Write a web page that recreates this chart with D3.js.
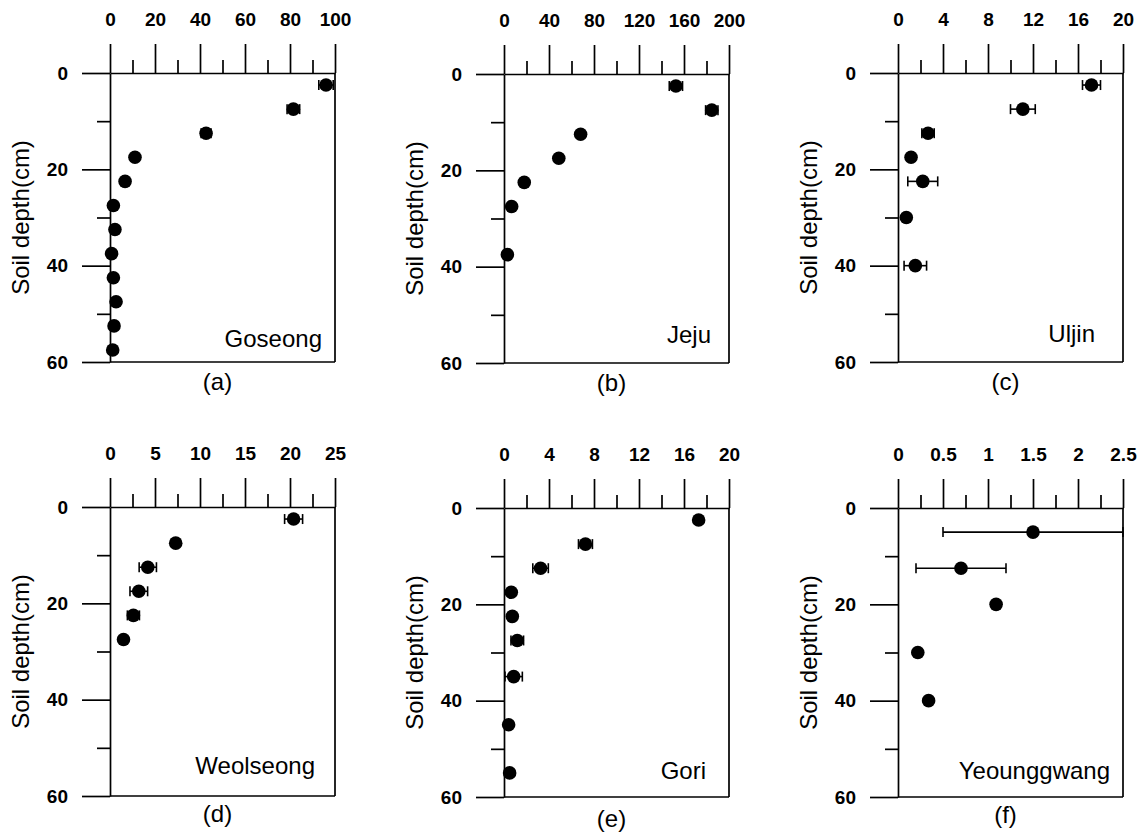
<html>
<head>
    <style>
        body {
            margin: 0;
            background: white;
            font-family: "Liberation Sans", Arial, sans-serif;
        }
        .axis path, .axis line, .border {
            stroke: black;
            stroke-width: 1.7;
        }
    </style>
    <script src="https://cdn.jsdelivr.net/npm/d3@7"></script>
</head>
<body>
    <div class="mainView"></div>
<script>
    // panel names, letters and x axis ranges
    let sites = ["Goseong", "Jeju", "Uljin", "Weolseong", "Gori", "Yeounggwang"];
    let letters = ["(a)", "(b)", "(c)", "(d)", "(e)", "(f)"];
    let xMax = [100, 200, 20, 25, 20, 2.5];
    let xMajorTicks = [
        [0, 20, 40, 60, 80, 100],
        [0, 40, 80, 120, 160, 200],
        [0, 4, 8, 12, 16, 20],
        [0, 5, 10, 15, 20, 25],
        [0, 4, 8, 12, 16, 20],
        [0, 0.5, 1, 1.5, 2, 2.5]
    ];
    let xMinorTicks = [
        [10, 30, 50, 70, 90],
        [20, 60, 100, 140, 180],
        [2, 6, 10, 14, 18],
        [2.5, 7.5, 12.5, 17.5, 22.5],
        [2, 6, 10, 14, 18],
        [0.25, 0.75, 1.25, 1.75, 2.25]
    ];
    let depthMajorTicks = [0, 20, 40, 60];
    let depthMinorTicks = [10, 30, 50];

    // values (depth in cm, value, +/- error)
    let goseongDepth = [2.5, 7.5, 12.5, 17.5, 22.5, 27.5, 32.5, 37.5, 42.5, 47.5, 52.5, 57.5];
    let goseongValue = [96, 81.5, 42.7, 11.1, 6.7, 1.5, 2.2, 0.7, 1.5, 2.7, 1.8, 1.2];
    let goseongError = [3.2, 2.8, 2.2, 0, 0, 0, 0, 0, 0, 0, 0, 0];

    let jejuDepth = [2.5, 7.5, 12.5, 17.5, 22.5, 27.5, 37.5];
    let jejuValue = [152.8, 184.7, 68.1, 48.7, 18, 6.8, 3];
    let jejuError = [5.9, 5.5, 0, 0, 0, 0, 0];

    let uljinDepth = [2.5, 7.5, 12.5, 17.5, 22.5, 30, 40];
    let uljinValue = [17.2, 11.1, 2.67, 1.16, 2.2, 0.74, 1.54];
    let uljinError = [0.8, 1.1, 0.55, 0, 1.33, 0, 1.0];

    let weolseongDepth = [2.5, 7.5, 12.5, 17.5, 22.5, 27.5];
    let weolseongValue = [20.4, 7.3, 4.2, 3.2, 2.6, 1.5];
    let weolseongError = [1.0, 0, 0.96, 0.98, 0.67, 0];

    let goriDepth = [2.5, 7.5, 12.5, 17.5, 22.5, 27.5, 35, 45, 55];
    let goriValue = [17.3, 7.24, 3.25, 0.65, 0.74, 1.18, 0.86, 0.41, 0.5];
    let goriError = [0, 0.62, 0.69, 0, 0, 0.56, 0.77, 0, 0];

    let yeounggwangDepth = [5, 12.5, 20, 30, 40];
    let yeounggwangValue = [1.5, 0.7, 1.09, 0.22, 0.34];
    let yeounggwangError = [1.0, 0.5, 0, 0, 0];

    let depths = [goseongDepth, jejuDepth, uljinDepth, weolseongDepth, goriDepth, yeounggwangDepth];
    let values = [goseongValue, jejuValue, uljinValue, weolseongValue, goriValue, yeounggwangValue];
    let errors = [goseongError, jejuError, uljinError, weolseongError, goriError, yeounggwangError];

    function getChartConfig() {
        let width = 1147;
        let height = 833;
        let panelWidth = 225;
        let panelHeight = 289;
        // left, top, site label offsets, letter offset
        let layout = [
            { left: 110, top: 73, siteDx: 13, siteDy: 15, letterDy: 28 },
            { left: 504, top: 74, siteDx: 18, siteDy: 20, letterDy: 28 },
            { left: 898, top: 73, siteDx: 28, siteDy: 20, letterDy: 28 },
            { left: 110, top: 507, siteDx: 20, siteDy: 22, letterDy: 26 },
            { left: 504, top: 508, siteDx: 23, siteDy: 18, letterDy: 30 },
            { left: 898, top: 508, siteDx: 13, siteDy: 18, letterDy: 26 }
        ];
        let svg = d3.select(".mainView")
            .append("svg")
            .attr("width", width)
            .attr("height", height);
        return { width, height, panelWidth, panelHeight, layout, svg };
    }

    function drawPanel(i, config) {
        let { panelWidth, panelHeight, layout, svg } = config;
        let pos = layout[i];
        let g = svg.append("g")
            .attr("transform", "translate(" + [pos.left, pos.top] + ")");

        let xScale = d3.scaleLinear().domain([0, xMax[i]]).range([0, panelWidth]);
        let yScale = d3.scaleLinear().domain([0, 60]).range([0, panelHeight]);

        // minor ticks
        g.append("g").attr("class", "axis")
            .call(d3.axisTop(xScale).tickValues(xMinorTicks[i]).tickSize(13).tickFormat(""))
            .select(".domain").remove();
        g.append("g").attr("class", "axis")
            .call(d3.axisLeft(yScale).tickValues(depthMinorTicks).tickSize(13).tickFormat(""))
            .select(".domain").remove();

        // major ticks with labels
        let top = g.append("g").attr("class", "axis")
            .call(d3.axisTop(xScale).tickValues(xMajorTicks[i])
                .tickSize(29).tickSizeOuter(0).tickPadding(18).tickFormat(d => d));
        let left = g.append("g").attr("class", "axis")
            .call(d3.axisLeft(yScale).tickValues(depthMajorTicks)
                .tickSize(28).tickSizeOuter(0).tickPadding(14).tickFormat(d => d));
        [top, left].forEach(a => {
            a.attr("font-family", null).attr("font-size", null);
            a.selectAll("text")
                .style("font-size", "19px")
                .style("font-weight", "bold")
                .style("fill", "black");
        });

        // right and bottom border
        g.append("line").attr("class", "border")
            .attr("x1", panelWidth).attr("x2", panelWidth)
            .attr("y1", 0).attr("y2", panelHeight);
        g.append("line").attr("class", "border")
            .attr("x1", 0).attr("x2", panelWidth)
            .attr("y1", panelHeight).attr("y2", panelHeight);

        let points = depths[i].map((d, k) => ({ depth: d, value: values[i][k], err: errors[i][k] }));

        // error bars
        let bars = g.selectAll(".err")
            .data(points.filter(p => p.err > 0))
            .enter()
            .append("g")
            .attr("class", "err")
            .attr("stroke", "black")
            .attr("stroke-width", 1.6);
        bars.append("line")
            .attr("x1", p => xScale(p.value - p.err))
            .attr("x2", p => xScale(p.value + p.err))
            .attr("y1", p => yScale(p.depth))
            .attr("y2", p => yScale(p.depth));
        [-1, 1].forEach(s => {
            bars.append("line")
                .attr("x1", p => xScale(p.value + s * p.err))
                .attr("x2", p => xScale(p.value + s * p.err))
                .attr("y1", p => yScale(p.depth) - 5)
                .attr("y2", p => yScale(p.depth) + 5);
        });

        g.selectAll("circle")
            .data(points)
            .enter()
            .append("circle")
            .attr("cx", p => xScale(p.value))
            .attr("cy", p => yScale(p.depth))
            .attr("r", 6.8)
            .attr("fill", "black");

        // texts
        g.append("text")
            .attr("x", panelWidth - pos.siteDx)
            .attr("y", panelHeight - pos.siteDy)
            .attr("text-anchor", "end")
            .style("font-size", "24px")
            .text(sites[i]);
        g.append("text")
            .attr("x", panelWidth / 2 - 5)
            .attr("y", panelHeight + pos.letterDy)
            .attr("text-anchor", "middle")
            .style("font-size", "24px")
            .text(letters[i]);
        g.append("text")
            .attr("transform", "translate(" + [-89, panelHeight / 2] + ") rotate(-90)")
            .attr("dy", "0.35em")
            .attr("text-anchor", "middle")
            .style("font-size", "24px")
            .text("Soil depth(cm)");
    }

    function showData() {
        let config = getChartConfig();
        sites.forEach((s, i) => drawPanel(i, config));
    }
    showData();
</script>
</body>
</html>
